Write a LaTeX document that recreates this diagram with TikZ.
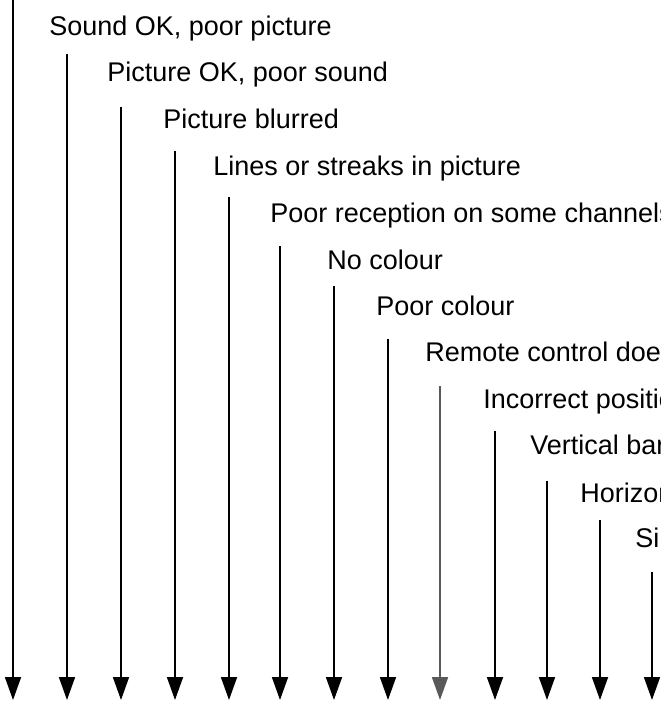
\documentclass[tikz,border=0pt]{standalone}
\usepackage{fontspec}
\setmainfont{Liberation Sans}
\usetikzlibrary{arrows.meta}

\begin{document}
\begin{tikzpicture}[x=0.5pt,y=-0.5pt,
    fault/.style={anchor=base west,inner sep=0pt,font=\fontsize{13.5}{16}\selectfont},
    check/.style={-{Triangle[length=11.5pt,width=8pt]},line width=0.9pt}]
    \useasboundingbox (0,0) rectangle (660,702);
    \clip (0,0) rectangle (660,702);
    \foreach \i/\x/\t in {1/13/0,2/67/54,3/121/107,4/175/151,5/229/197,6/280/246,7/334/286,
                          8/388/339,9/440/386,10/495/431,11/547/481,12/600/520,13/652/572} {
        \coordinate (top\i) at (\x,\t);
        \coordinate (end\i) at (\x,700);
    }

    \node[fault] (sound)     at (49,35)  {Sound OK, poor picture};
    \node[fault] (picture)   at (107,81) {Picture OK, poor sound};
    \node[fault] (blurred)   at (163,128) {Picture blurred};
    \node[fault] (lines)     at (213,175) {Lines or streaks in picture};
    \node[fault] (reception) at (270,222) {Poor reception on some channels};
    \node[fault] (nocolour)  at (327,269) {No colour};
    \node[fault] (poorcol)   at (376,315) {Poor colour};
    \node[fault] (remote)    at (425,361) {Remote control does};
    \node[fault] (position)  at (483,408) {Incorrect position};
    \node[fault] (vbars)     at (530,454) {Vertical bars};
    \node[fault] (hbars)     at (580,502) {Horizontal bars};
    \node[fault] (si)        at (635,547) {Si};

    \foreach \i/\c in {1/black,2/black,3/black,4/black,5/black,6/black,7/black,
                       8/black,9/black!65,10/black,11/black,12/black,13/black}
        \draw[check,\c] (top\i) -- (end\i);
\end{tikzpicture}
\end{document}
